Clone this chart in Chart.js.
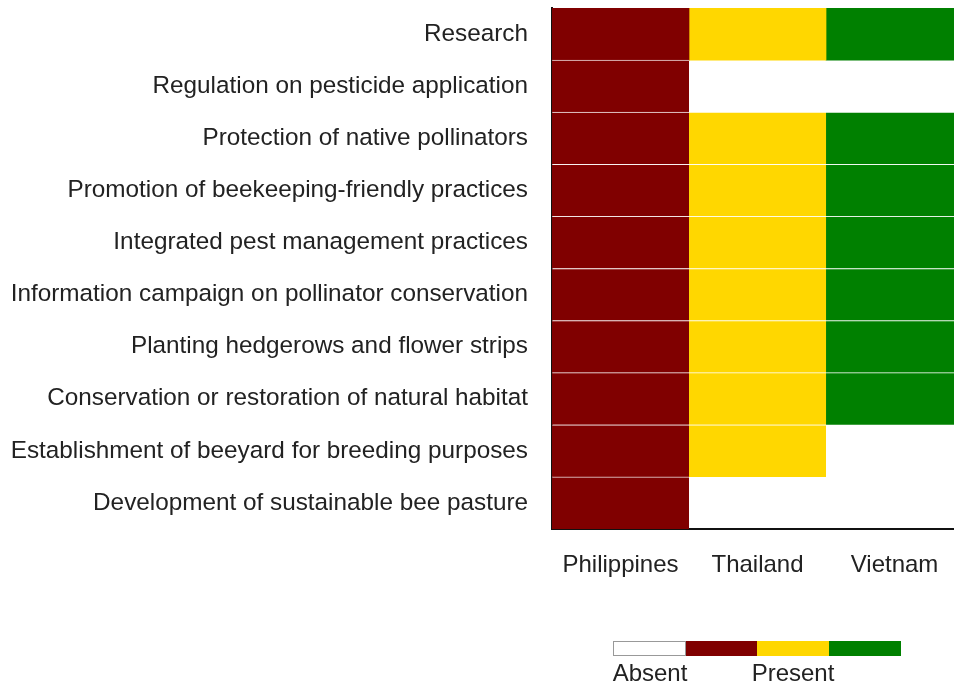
<!DOCTYPE html>
<html>
<head>
<meta charset="utf-8">
<script src="https://cdn.jsdelivr.net/npm/chart.js@4"></script>
<style>
  body { margin: 0; background: #fff; }
  #wrap { width: 954px; height: 685px; }
</style>
</head>
<body>
<div id="wrap"><canvas id="chart"></canvas></div>
<script>
// rows of the matrix, top to bottom
const measures = [
  "Research",
  "Regulation on pesticide application",
  "Protection of native pollinators",
  "Promotion of beekeeping-friendly practices",
  "Integrated pest management practices",
  "Information campaign on pollinator conservation",
  "Planting hedgerows and flower strips",
  "Conservation or restoration of natural habitat",
  "Establishment of beeyard for breeding purposes",
  "Development of sustainable bee pasture"
];
const countries = ["Philippines", "Thailand", "Vietnam"];

// 1 = present, 0 = absent
const philippines = [1, 1, 1, 1, 1, 1, 1, 1, 1, 1];
const thailand    = [1, 0, 1, 1, 1, 1, 1, 1, 1, 0];
const vietnam     = [1, 0, 1, 1, 1, 1, 1, 1, 0, 0];

const countryColors = ["#800000", "#FFD700", "#008000"];
const legendColors = ["#ffffff", "#800000", "#FFD700", "#008000"];
const legendLabels = ["Absent", "Present"];

const font = "'Liberation Sans', Arial, sans-serif";

const series = [philippines, thailand, vietnam];
const datasets = series.map((vals, i) => ({
  label: countries[i],
  data: vals.map(v => v ? [i, i + 1] : null),
  backgroundColor: countryColors[i],
  borderColor: "rgba(255,255,255,0.7)",
  // thin light line between rows, none on the first row
  borderWidth: (ctx) => ({top: ctx.dataIndex === 0 ? 0 : 1, bottom: 0, left: 0, right: 0}),
  borderSkipped: false,
  barPercentage: 1,
  categoryPercentage: 1,
  grouped: false
}));

const legendBar = {
  id: "legendBar",
  afterDraw(chart) {
    const ctx = chart.ctx;
    const x0 = 613, y0 = 641, segW = 72, h = 15;
    ctx.save();
    legendColors.forEach((c, i) => {
      ctx.fillStyle = c;
      ctx.fillRect(x0 + i * segW, y0, segW, h);
    });
    ctx.strokeStyle = "#999";
    ctx.lineWidth = 1;
    ctx.strokeRect(x0 + 0.5, y0 + 0.5, segW, h - 1);
    ctx.fillStyle = "#222";
    ctx.font = "24px " + font;
    ctx.textAlign = "center";
    ctx.textBaseline = "middle";
    ctx.fillText(legendLabels[0], 650, 674);
    ctx.fillText(legendLabels[1], 793, 674);
    ctx.restore();
  }
};

new Chart(document.getElementById("chart"), {
  type: "bar",
  data: { labels: measures, datasets: datasets },
  options: {
    indexAxis: "y",
    responsive: true,
    maintainAspectRatio: false,
    animation: false,
    layout: { padding: { top: 8, right: 0, left: 0, bottom: 0 } },
    plugins: { legend: { display: false }, tooltip: { enabled: false } },
    scales: {
      x: {
        type: "linear",
        min: 0,
        max: 2.934,
        grid: { display: false },
        border: { display: true, color: "#111", width: 2 },
        afterBuildTicks(scale) {
          scale.ticks = countries.map((c, i) => ({ value: i + 0.5 }));
        },
        afterFit(scale) {
          scale.height = 156;
          scale.paddingLeft = 0;
          scale.paddingRight = 0;
        },
        ticks: {
          padding: 14,
          color: "#222",
          font: { family: font, size: 24 },
          callback: (v) => countries[Math.floor(v)]
        }
      },
      y: {
        grid: { display: false },
        border: { display: true, color: "#111", width: 2 },
        afterFit(scale) {
          scale.width = 552;
          scale.paddingTop = 0;
          scale.paddingBottom = 0;
        },
        ticks: {
          padding: 16,
          color: "#222",
          font: { family: font, size: 24.3 }
        }
      }
    }
  },
  plugins: [legendBar]
});
</script>
</body>
</html>
